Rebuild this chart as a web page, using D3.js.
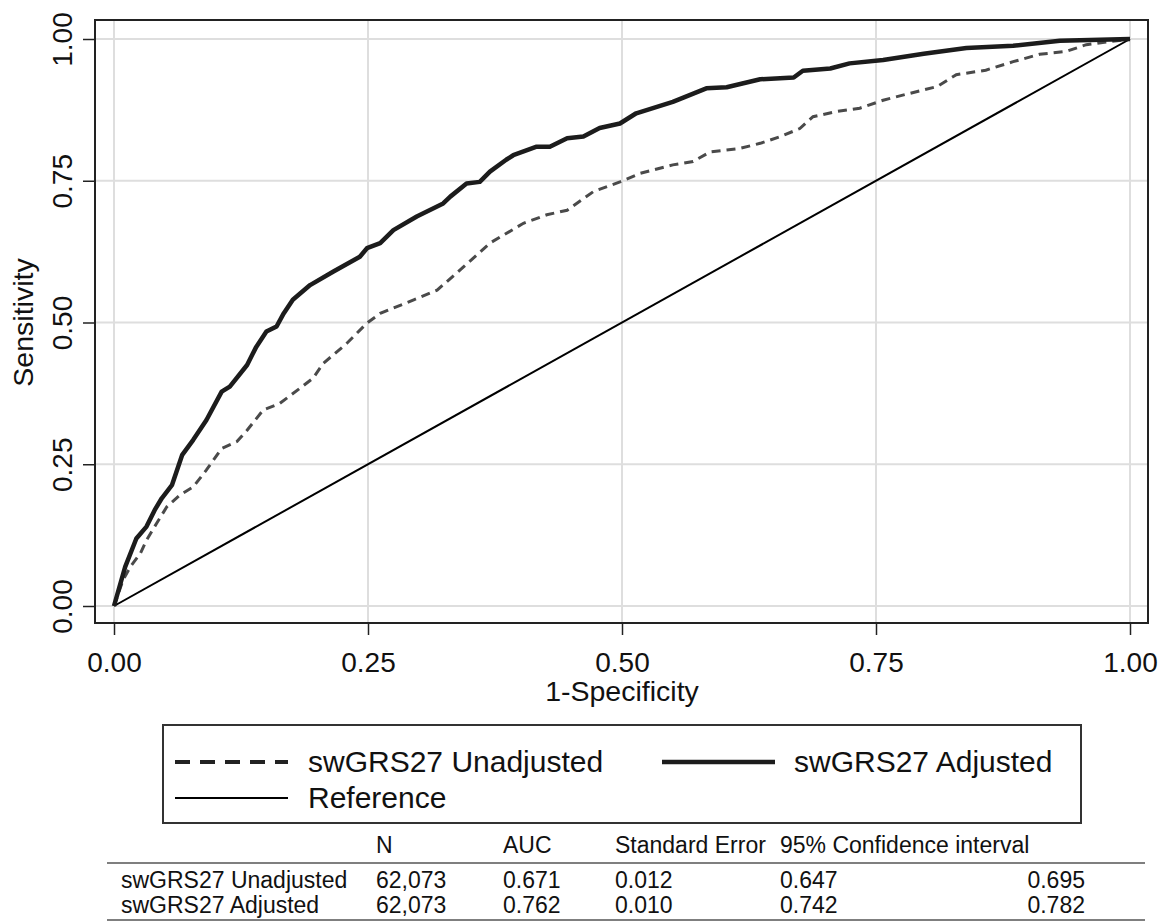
<!DOCTYPE html>
<html lang="en">
<head>
<meta charset="UTF-8">
<title>ROC curves</title>
<style>
  body { margin: 0; background: #fff; }
  text { font-family: "Liberation Sans", Arial, sans-serif; fill: #111; }
</style>
</head>
<body>
<script src="https://cdn.jsdelivr.net/npm/d3@7"></script>
<script>
// ROC points (1-specificity, sensitivity)
var fprAdj = [0, 0.011, 0.022, 0.032, 0.040, 0.047, 0.057, 0.067, 0.078, 0.091, 0.106, 0.114, 0.131, 0.140, 0.150, 0.160, 0.167, 0.176, 0.193, 0.216, 0.242, 0.249, 0.262, 0.275, 0.298, 0.324, 0.331, 0.347, 0.360, 0.370, 0.386, 0.393, 0.416, 0.429, 0.446, 0.462, 0.478, 0.498, 0.514, 0.550, 0.583, 0.603, 0.636, 0.669, 0.678, 0.705, 0.724, 0.757, 0.797, 0.839, 0.885, 0.931, 1];
var tprAdj = [0, 0.069, 0.119, 0.140, 0.169, 0.190, 0.213, 0.266, 0.293, 0.328, 0.378, 0.387, 0.425, 0.457, 0.484, 0.493, 0.516, 0.540, 0.566, 0.590, 0.616, 0.631, 0.640, 0.663, 0.687, 0.710, 0.722, 0.745, 0.748, 0.766, 0.787, 0.795, 0.810, 0.810, 0.825, 0.828, 0.843, 0.851, 0.869, 0.889, 0.913, 0.915, 0.929, 0.932, 0.944, 0.948, 0.957, 0.963, 0.974, 0.984, 0.988, 0.997, 1];

var fprUnadj = [0, 0.009, 0.016, 0.026, 0.032, 0.042, 0.052, 0.065, 0.078, 0.091, 0.106, 0.121, 0.131, 0.147, 0.163, 0.183, 0.196, 0.206, 0.229, 0.249, 0.262, 0.295, 0.318, 0.344, 0.370, 0.403, 0.426, 0.446, 0.472, 0.498, 0.518, 0.550, 0.570, 0.587, 0.616, 0.636, 0.656, 0.675, 0.688, 0.711, 0.734, 0.757, 0.783, 0.810, 0.829, 0.858, 0.885, 0.911, 0.937, 0.957, 1];
var tprUnadj = [0, 0.046, 0.069, 0.093, 0.116, 0.146, 0.175, 0.196, 0.210, 0.240, 0.278, 0.290, 0.310, 0.346, 0.357, 0.384, 0.402, 0.428, 0.463, 0.499, 0.516, 0.540, 0.557, 0.598, 0.640, 0.675, 0.690, 0.698, 0.731, 0.748, 0.763, 0.778, 0.784, 0.801, 0.807, 0.816, 0.828, 0.842, 0.863, 0.872, 0.878, 0.892, 0.904, 0.916, 0.937, 0.945, 0.960, 0.973, 0.978, 0.990, 1];

var refLine = [0, 1];
var tickVals = [0, 0.25, 0.5, 0.75, 1];

// table rows
var tableHead = ["", "N", "AUC", "Standard Error", "95% Confidence interval", ""];
var rowNames = ["swGRS27 Unadjusted", "swGRS27 Adjusted"];
var nObs = ["62,073", "62,073"];
var auc = ["0.671", "0.762"];
var stdErr = ["0.012", "0.010"];
var ciLow = ["0.647", "0.742"];
var ciHigh = ["0.695", "0.782"];

var width = 1168, height = 922;
var frame = { left: 95, top: 20, right: 1148, bottom: 623 };

var svg = d3.select('body').append('svg')
    .attr('width', width).attr('height', height);
svg.append('rect').attr('width', width).attr('height', height).attr('fill', '#fff');

var x = d3.scaleLinear().domain([0, 1]).range([114, 1130]);
var y = d3.scaleLinear().domain([0, 1]).range([606, 39]);

// grid
var grid = svg.append('g');
grid.selectAll('.vg').data(tickVals).enter().append('line')
    .attr('x1', function(d) { return x(d); }).attr('x2', function(d) { return x(d); })
    .attr('y1', frame.top).attr('y2', frame.bottom)
    .attr('stroke', '#dedede').attr('stroke-width', 2);
grid.selectAll('.hg').data(tickVals).enter().append('line')
    .attr('y1', function(d) { return y(d); }).attr('y2', function(d) { return y(d); })
    .attr('x1', frame.left).attr('x2', frame.right)
    .attr('stroke', '#dedede').attr('stroke-width', 2);

// curves
var line = d3.line()
    .x(function(d) { return x(d[0]); })
    .y(function(d) { return y(d[1]); });

svg.append('path')
    .datum(refLine.map(function(v) { return [v, v]; }))
    .attr('d', line).attr('fill', 'none')
    .attr('stroke', '#000').attr('stroke-width', 2);

svg.append('path')
    .datum(fprUnadj.map(function(v, i) { return [v, tprUnadj[i]]; }))
    .attr('d', line).attr('fill', 'none')
    .attr('stroke', '#4a4a4a').attr('stroke-width', 3)
    .attr('stroke-dasharray', '9,6');

svg.append('path')
    .datum(fprAdj.map(function(v, i) { return [v, tprAdj[i]]; }))
    .attr('d', line).attr('fill', 'none')
    .attr('stroke', '#1c1c1c').attr('stroke-width', 4.5)
    .attr('stroke-linejoin', 'round');

// frame
svg.append('rect')
    .attr('x', frame.left).attr('y', frame.top)
    .attr('width', frame.right - frame.left).attr('height', frame.bottom - frame.top)
    .attr('fill', 'none').attr('stroke', '#222').attr('stroke-width', 2);

// axes
var fmt = d3.format('.2f');
var xAxis = svg.append('g')
    .attr('transform', 'translate(0,' + frame.bottom + ')')
    .call(d3.axisBottom(x).tickValues(tickVals).tickFormat(fmt).tickSize(12).tickSizeOuter(0));
xAxis.select('.domain').remove();
xAxis.selectAll('line').attr('stroke', '#222').attr('stroke-width', 1.5);
xAxis.selectAll('text').attr('y', 49).attr('dy', 0)
    .style('font-size', '28px').attr('fill', '#111');

var yAxis = svg.append('g')
    .attr('transform', 'translate(' + frame.left + ',0)')
    .call(d3.axisLeft(y).tickValues(tickVals).tickFormat(fmt).tickSize(12).tickSizeOuter(0));
yAxis.select('.domain').remove();
yAxis.selectAll('line').attr('stroke', '#222').attr('stroke-width', 1.5);
yAxis.selectAll('text')
    .attr('x', 0).attr('dy', 0)
    .attr('transform', 'translate(-23,0) rotate(-90)')
    .attr('text-anchor', 'middle')
    .style('font-size', '28px').attr('fill', '#111');

// axis titles
svg.append('text')
    .attr('x', x(0.5)).attr('y', 701)
    .attr('text-anchor', 'middle')
    .style('font-size', '28.5px')
    .text('1-Specificity');
svg.append('text')
    .attr('transform', 'translate(33,' + y(0.5) + ') rotate(-90)')
    .attr('text-anchor', 'middle')
    .style('font-size', '28.5px')
    .text('Sensitivity');

// legend
var legend = svg.append('g');
legend.append('rect')
    .attr('x', 163).attr('y', 725).attr('width', 918).attr('height', 98)
    .attr('fill', '#fff').attr('stroke', '#333').attr('stroke-width', 2);

var legItems = [
    { label: 'swGRS27 Unadjusted', x0: 175, x1: 288, tx: 308, cy: 762, w: 4, dash: '15,10', color: '#222' },
    { label: 'swGRS27 Adjusted', x0: 662, x1: 775, tx: 794, cy: 762, w: 4.5, dash: null, color: '#1c1c1c' },
    { label: 'Reference', x0: 175, x1: 288, tx: 308, cy: 798, w: 2, dash: null, color: '#000' }
];
var li = legend.selectAll('.li').data(legItems).enter().append('g');
li.append('line')
    .attr('x1', function(d) { return d.x0; }).attr('x2', function(d) { return d.x1; })
    .attr('y1', function(d) { return d.cy; }).attr('y2', function(d) { return d.cy; })
    .attr('stroke', function(d) { return d.color; })
    .attr('stroke-width', function(d) { return d.w; })
    .attr('stroke-dasharray', function(d) { return d.dash; });
li.append('text')
    .attr('x', function(d) { return d.tx; })
    .attr('y', function(d) { return d.cy + 10; })
    .style('font-size', '30px')
    .text(function(d) { return d.label; });

// table
var colX = [121, 376, 503, 615, 780];
var tbl = svg.append('g').style('font-size', '23px');
tbl.selectAll('.th').data(tableHead.slice(1, 5)).enter().append('text')
    .attr('x', function(d, i) { return colX[i + 1]; })
    .attr('y', 853)
    .text(function(d) { return d; });

[863, 920].forEach(function(ry) {
    tbl.append('line').attr('x1', 107).attr('x2', 1145)
        .attr('y1', ry).attr('y2', ry)
        .attr('stroke', '#555').attr('stroke-width', 1.5);
});

var rows = rowNames.map(function(name, i) {
    return [name, nObs[i], auc[i], stdErr[i], ciLow[i], ciHigh[i]];
});
var rowG = tbl.selectAll('.tr').data(rows).enter().append('g');
rowG.each(function(r, ri) {
    var g = d3.select(this);
    var by = 888 + ri * 25;
    r.forEach(function(cell, ci) {
        var t = g.append('text').attr('y', by).text(cell);
        if (ci < 5) t.attr('x', colX[ci]);
        else t.attr('x', 1085).attr('text-anchor', 'end');
    });
});
</script>
</body>
</html>
